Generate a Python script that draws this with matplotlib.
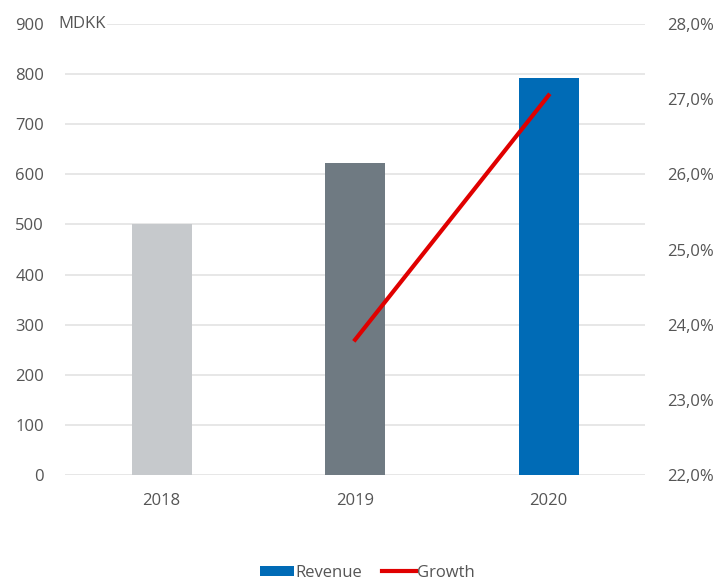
import matplotlib.pyplot as plt
from matplotlib.ticker import FuncFormatter
from matplotlib.patches import Patch
from matplotlib.lines import Line2D

years = ['2018', '2019', '2020']
revenue = [500, 622, 792]
growth_years = ['2019', '2020']
growth = [23.8, 27.05]
bar_colors = ['#c6c9cc', '#6f7a82', '#006bb6']

plt.rcParams['font.family'] = ['Open Sans', 'DejaVu Sans']
txt = '#555555'

fig = plt.figure(figsize=(7.21, 5.81), dpi=100)
ax = fig.add_axes([0.090, 0.1824, 0.805, 0.7763])

x = list(range(len(years)))
ax.bar(x, revenue, width=0.31, color=bar_colors, zorder=2)
ax.set_xlim(-0.5, 2.5)
ax.set_ylim(0, 900)
ax.set_yticks(range(0, 901, 100))
ax.set_xticks(x)
ax.set_xticklabels(years)
ax.grid(axis='y', color='#e3e3e3', linewidth=1.2, zorder=0)
for s in ax.spines.values():
    s.set_visible(False)
ax.tick_params(axis='both', length=0, labelsize=12, colors=txt)
ax.tick_params(axis='y', pad=15)
ax.tick_params(axis='x', pad=13)
ax.text(-0.012, 900, 'MDKK', transform=ax.get_yaxis_transform(), fontsize=12,
        color=txt, va='center', ha='left',
        bbox=dict(facecolor='white', edgecolor='none', pad=1), zorder=3)

ax2 = ax.twinx()
gx = [years.index(y) for y in growth_years]
ax2.plot(gx, growth, color='#e00000', linewidth=3, zorder=4)
ax2.set_ylim(22, 28)
ax2.set_yticks(range(22, 29))
ax2.yaxis.set_major_formatter(FuncFormatter(lambda v, p: f'{v:.1f}%'.replace('.', ',')))
for s in ax2.spines.values():
    s.set_visible(False)
ax2.tick_params(axis='y', length=0, labelsize=12, colors=txt, pad=16)

handles = [Patch(facecolor='#006bb6', label='Revenue'),
           Line2D([0], [0], color='#e00000', linewidth=3, label='Growth')]
fig.legend(handles=handles, loc='center', bbox_to_anchor=(0.51, 0.014), ncol=2,
           frameon=False, fontsize=12, labelcolor=txt, handlelength=2.0,
           handleheight=0.6, handletextpad=0.1, columnspacing=1.2)

fig.savefig('out.png', dpi=100)
